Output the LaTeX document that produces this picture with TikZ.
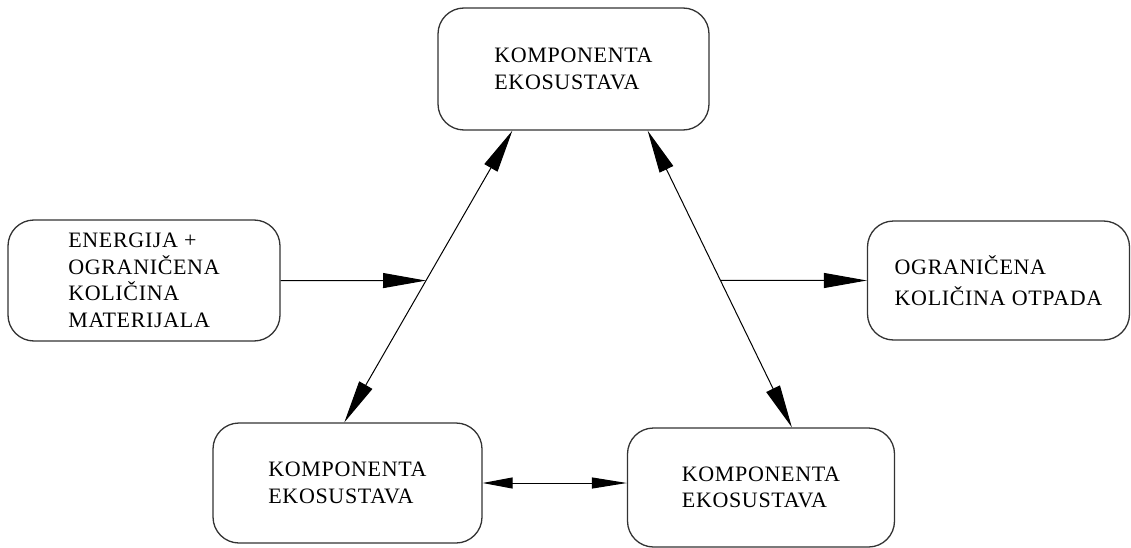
\documentclass[tikz,border=0pt]{standalone}
\usepackage{fontspec}
\setmainfont{Liberation Serif}[LetterSpace=3]
\usetikzlibrary{arrows.meta}

\begin{document}
\begin{tikzpicture}[x=1pt,y=-1pt,
    box/.style={draw=black!80,line width=1.3pt,rounded corners=26pt,align=left,
        font=\fontsize{22}{26.5}\selectfont},
    link/.style={line width=1pt},
    bigtip/.style={-{Triangle[length=43pt,width=15pt]}},
    twotip/.style={{Triangle[length=43pt,width=15pt]}-{Triangle[length=43pt,width=15pt]}},
    smalltip/.style={{Triangle[length=30pt,width=11pt]}-{Triangle[length=35pt,width=11pt]}}]
            \useasboundingbox (0,0) rectangle (1131,548);

            \node[box,minimum width=271pt,minimum height=122pt] (komptop) at (573.5,69) {KOMPONENTA\\EKOSUSTAVA};
            \node[box,minimum width=272pt,minimum height=121pt] (energija) at (144,280.5) {ENERGIJA +\\OGRANIČENA\\KOLIČINA\\MATERIJALA};
            \node[box,minimum width=262pt,minimum height=119pt,
                font=\fontsize{22}{31}\selectfont] (otpad) at (998.5,280.5) {OGRANIČENA\\KOLIČINA OTPADA};
            \node[box,minimum width=269pt,minimum height=120pt] (kompleft) at (347.5,483) {KOMPONENTA\\EKOSUSTAVA};
            \node[box,minimum width=267pt,minimum height=119pt] (kompright) at (761,487.5) {KOMPONENTA\\EKOSUSTAVA};

            \coordinate (topl) at ([xshift=75pt]komptop.south west);
            \coordinate (topr) at ([xshift=-62pt]komptop.south east);
            \coordinate (leftup) at ([xshift=132pt]kompleft.north west);
            \coordinate (rightup) at ([xshift=165pt]kompright.north west);

            \draw[link,twotip] (topl) -- (leftup) coordinate[pos=0.514] (midl);
            \draw[link,twotip] (topr) -- (rightup) coordinate[pos=0.505] (midr);
            \draw[link,smalltip] (kompleft.east) -- (kompleft.east -| kompright.west);
            \draw[link,bigtip] (energija.east) -- (midl);
            \draw[link,bigtip] (midr) -- (otpad.west);
        \end{tikzpicture}
\end{document}
